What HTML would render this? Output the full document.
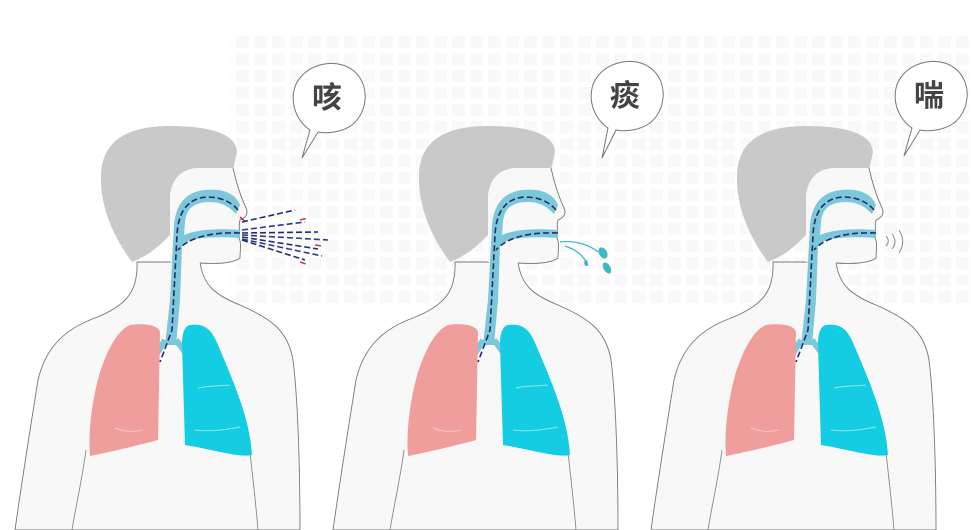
<!DOCTYPE html>
<html><head><meta charset="utf-8"><style>
html,body{margin:0;padding:0;background:#fff;}
svg{display:block}
</style></head><body>
<svg width="971" height="530" viewBox="0 0 971 530" xmlns="http://www.w3.org/2000/svg">
<defs>
<pattern id="grid" x="0" y="0" width="18" height="17" patternUnits="userSpaceOnUse">
<rect x="2" y="2" width="13" height="12" fill="#f2f2f2"/>
</pattern>
<g id="fig">
  <path d="M137,262 C138,290 128,305 95,318 C62,330 45,350 38,380 C30,430 22,480 15,530 L300,530 C300,470 298,400 293,360 C288,330 270,318 240,305 C215,295 203,285 200,262 Z" fill="#f8f8f8" stroke="#777" stroke-width="0.9"/>
  <path d="M86,450 C82,480 76,505 72,530" fill="none" stroke="#888" stroke-width="0.9"/>
  <path d="M250,452 C253,480 256,505 258,530" fill="none" stroke="#888" stroke-width="0.9"/>
  <path d="M132,262 C112,235 100,205 101,175 C102,140 128,126 170,126 C205,126 236,132 237,152 L233,170 L200,168 C180,168 172,180 172,195 L170,235 C160,245 150,255 132,262 Z" fill="#c9c9c9"/>
  <path d="M233,168 C236,182 240,195 246,208 C249,214 245,218 240,220 C238,226 241,230 238,236 C242,242 240,250 240,258 C232,264 215,264 200,263 L170,262 L170,195 C172,180 180,168 200,168 Z" fill="#f8f8f8" stroke="none"/>
  <path d="M233,168 C236,182 240,195 246,208 C249,214 245,218 240,220 C238,226 241,230 238,236 C242,242 240,250 240,258 C232,264 215,264 200,263" fill="none" stroke="#777" stroke-width="0.9"/>
  <path d="M240,205 C236,195 225,188 205,190 C185,192 176,205 174,225 L170,300 L165,345 L176,345 L180,300 L182,245 C190,238 210,236 240,238 L240,230 C215,228 195,230 184,235 L185,222 C186,208 195,202 210,202 C225,202 232,210 236,214 Z" fill="#7cc7d9"/>
  <path d="M165,340 L150,365 M176,340 L185,352" stroke="#7cc7d9" stroke-width="6" fill="none"/>
  <path d="M238,210 C230,200 215,195 200,198 C185,202 178,215 177,235 L172,330 L160,362" fill="none" stroke="#1f2e6e" stroke-width="1.6" stroke-dasharray="6,3"/>
  <path d="M240,233 C215,232 190,236 178,250" fill="none" stroke="#1f2e6e" stroke-width="1.6" stroke-dasharray="6,3"/>
  <path d="M130,325 C145,323 158,325 160,332 L158,440 C140,445 110,452 90,456 C88,430 92,400 100,372 C108,348 118,330 130,325 Z" fill="#f09e9c"/>
  <path d="M190,325 C205,323 212,330 218,345 C235,385 250,420 252,455 C240,458 215,450 185,445 L182,345 C182,332 185,326 190,325 Z" fill="#14cde2"/>
  <path d="M198,388 C212,385 222,386 230,385 M195,430 C210,432 225,430 240,427" stroke="#8fe6f0" stroke-width="1" fill="none"/>
  <path d="M115,428 C125,432 135,432 143,430" stroke="#f8c6c4" stroke-width="1" fill="none"/>
</g>
</defs>
<rect x="230" y="35" width="740" height="270" fill="url(#grid)" opacity="0.45"/>
<use href="#fig"/>
<use href="#fig" transform="translate(318,0)"/>
<use href="#fig" transform="translate(636,0)"/>

<g stroke-width="1.6" stroke-dasharray="6,3" fill="none">
<path d="M242,222 L295,210" stroke="#1f2e6e"/>
<path d="M242,230 L305,222" stroke="#2a3a90"/>
<path d="M242,233 L318,232" stroke="#1f2e6e"/>
<path d="M242,235 L328,240" stroke="#2a3a90"/>
<path d="M242,237 L318,249" stroke="#1f2e6e"/>
<path d="M242,239 L322,256" stroke="#2a3a90"/>
<path d="M242,240 L305,260" stroke="#1f2e6e"/>
<path d="M240,217 L246,222" stroke="#b03050"/>
<path d="M300,220 L308,218 M315,245 L322,246 M300,262 L306,264" stroke="#c04060"/>
</g>
<g fill="#3fb7c5">
<path d="M560,242 C575,240 590,245 598,252" fill="none" stroke="#3fb7c5" stroke-width="1.2"/>
<path d="M565,246 C578,250 585,258 588,266" fill="none" stroke="#3fb7c5" stroke-width="1.2"/>
<ellipse cx="603" cy="253" rx="4" ry="6" transform="rotate(-30 603 253)"/>
<ellipse cx="607" cy="268" rx="3.5" ry="6" transform="rotate(-30 607 268)"/>
<ellipse cx="586" cy="263" rx="1.8" ry="3"/>
</g>
<g fill="none" stroke="#888" stroke-width="1">
<path d="M886,236 C889,239 889,243 886,246"/>
<path d="M892,234 C896,239 896,244 892,249"/>
<path d="M899,230 C904,238 904,245 899,253"/>
</g>

<g fill="#fff" stroke="#777" stroke-width="1">
<path d="M310,130 C292,118 288,92 300,78 C312,62 340,58 355,72 C370,86 368,112 352,125 C342,132 328,134 318,132 L302,158 Z"/>
<path d="M608,128 C590,116 586,90 598,76 C610,60 638,56 653,70 C668,84 666,110 650,123 C640,130 626,132 616,130 L602,158 Z"/>
<path d="M912,128 C894,116 890,90 902,76 C914,60 942,56 957,70 C972,84 970,110 954,123 C944,130 930,132 920,130 L904,156 Z"/>
</g>
<g font-family="'Liberation Sans','Noto Sans CJK SC',sans-serif" font-size="30" fill="#444" font-weight="bold" text-anchor="middle">
<text x="327" y="108">咳</text>
<text x="625" y="106">痰</text>
<text x="929" y="106">喘</text>
</g>
</svg>
</body></html>
